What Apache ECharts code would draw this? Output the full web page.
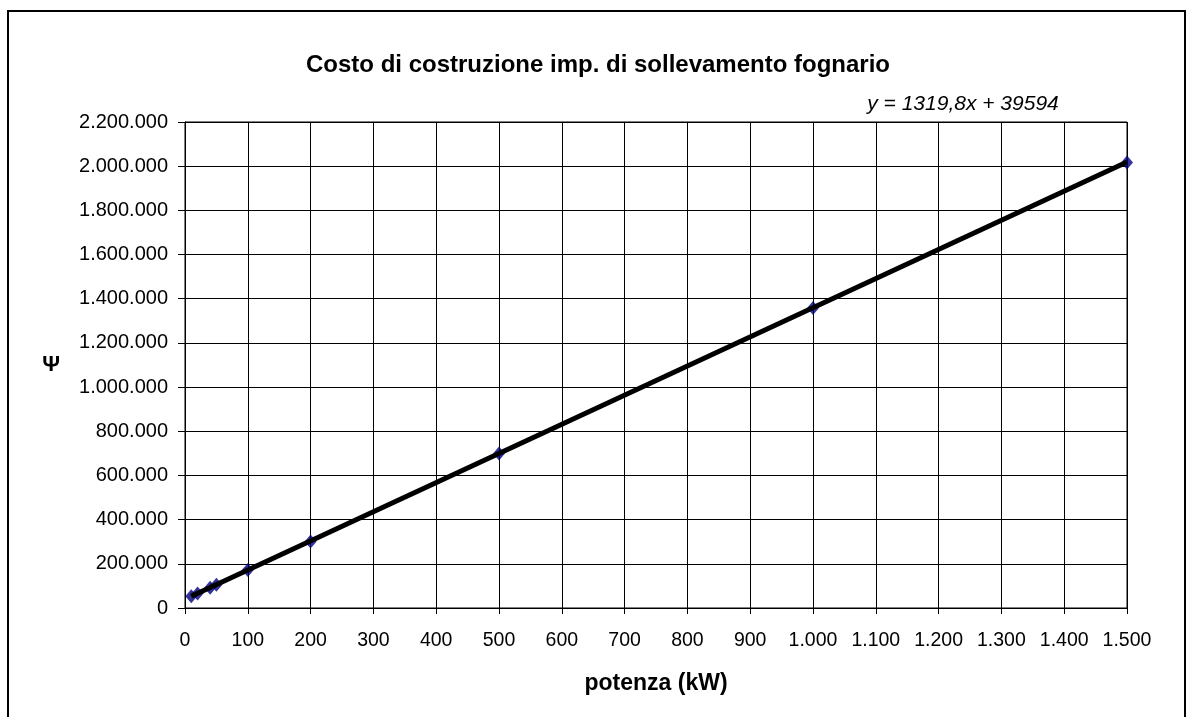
<!DOCTYPE html>
<html>
<head>
<meta charset="utf-8">
<script src="https://cdn.jsdelivr.net/npm/echarts@6/dist/echarts.min.js"></script>
<style>
html,body{margin:0;padding:0;background:#fff;}
#main{width:1187px;height:717px;}
</style>
</head>
<body>
<div id="main"></div>
<script>
// Data
const potenzaKW = [10, 20, 40, 50, 100, 200, 500, 1000, 1500];
const costo = [53000, 66000, 92000, 105000, 172000, 301000, 699000, 1358000, 2017000];
// Trend line endpoints (y = 1319,8x + 39594)
const trendX = [10, 1500];
const trendY = [52792, 2019294];
const titleText = 'Costo di costruzione imp. di sollevamento fognario';
const equationText = 'y = 1319,8x + 39594';
const xName = 'potenza (kW)';
const yName = 'Ψ';

function fmt(v) {
  return String(Math.round(v)).replace(/\B(?=(\d{3})+(?!\d))/g, '.');
}

const FONT = '"Liberation Sans", Arial, sans-serif';
const chart = echarts.init(document.getElementById('main'), null, {renderer: 'canvas'});
chart.setOption({
  animation: false,
  backgroundColor: '#fff',
  graphic: [{
    type: 'rect',
    shape: {x: 8, y: 11, width: 1177, height: 720},
    style: {fill: 'none', stroke: '#000', lineWidth: 2},
    silent: true
  }],
  title: [{
    text: titleText,
    left: 593, top: 48,
    textAlign: 'center',
    textStyle: {fontFamily: FONT, fontWeight: 'bold', fontSize: 24, color: '#000'}
  }, {
    text: equationText,
    left: 958, top: 89,
    textAlign: 'center',
    textStyle: {fontFamily: FONT, fontStyle: 'italic', fontWeight: 'normal', fontSize: 21, color: '#000'}
  }],
  grid: {
    left: 185, right: 60, top: 122, bottom: 109,
    show: true, borderColor: '#000', borderWidth: 1, backgroundColor: '#fff'
  },
  xAxis: {
    type: 'value', min: 0, max: 1500, interval: 100,
    name: xName, nameLocation: 'middle', nameGap: 64,
    nameTextStyle: {fontFamily: FONT, fontWeight: 'bold', fontSize: 23, color: '#000'},
    axisLine: {show: true, onZero: false, lineStyle: {color: '#000', width: 1}},
    axisTick: {show: true, inside: false, length: 6, lineStyle: {color: '#000'}},
    axisLabel: {fontFamily: FONT, fontSize: 19.5, color: '#000', margin: 23, formatter: fmt},
    splitLine: {show: true, lineStyle: {color: '#000', width: 1}}
  },
  yAxis: {
    type: 'value', min: 0, max: 2200000, interval: 200000,
    name: yName, nameLocation: 'middle', nameGap: 125, nameRotate: 0,
    nameTextStyle: {fontFamily: FONT, fontWeight: 'bold', fontSize: 22, color: '#000'},
    axisLine: {show: true, onZero: false, lineStyle: {color: '#000', width: 1}},
    axisTick: {show: true, inside: false, length: 7, lineStyle: {color: '#000'}},
    axisLabel: {fontFamily: FONT, fontSize: 20, color: '#000', margin: 17, formatter: fmt},
    splitLine: {show: true, lineStyle: {color: '#000', width: 1}}
  },
  series: [{
    type: 'scatter',
    data: potenzaKW.map((x, i) => [x, costo[i]]),
    symbol: 'diamond', symbolSize: [12, 14],
    itemStyle: {color: '#000080'},
    z: 2
  }, {
    type: 'line',
    data: trendX.map((x, i) => [x, trendY[i]]),
    symbol: 'none',
    lineStyle: {color: '#000', width: 5},
    z: 3
  }]
});
</script>
</body>
</html>
